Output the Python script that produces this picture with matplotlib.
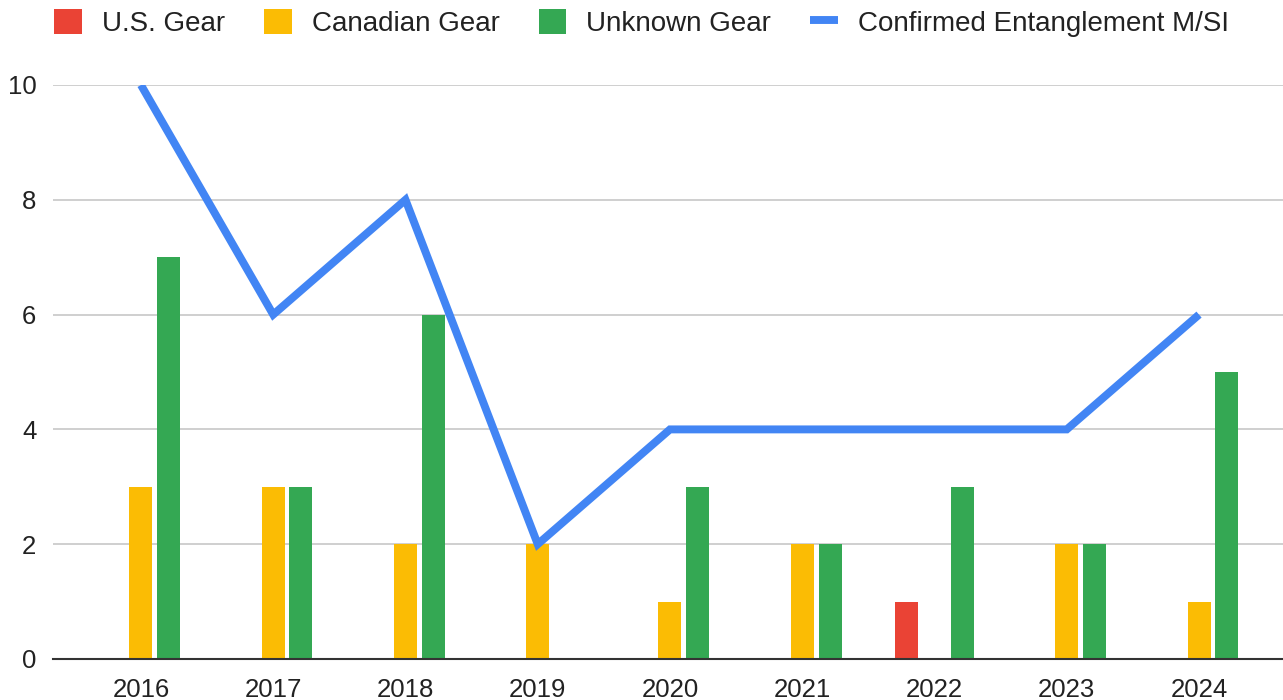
"""
Whale entanglement counts by gear origin, with confirmed M/SI line.
"""
import matplotlib
matplotlib.use('Agg')
import matplotlib.pyplot as plt
import numpy as np

years = ['2016', '2017', '2018', '2019', '2020', '2021', '2022', '2023', '2024']
us_gear = [0, 0, 0, 0, 0, 0, 1, 0, 0]
canadian_gear = [3, 3, 2, 2, 1, 2, 0, 2, 1]
unknown_gear = [7, 3, 6, 0, 3, 2, 3, 2, 5]
confirmed_msi = [10, 6, 8, 2, 4, 4, 4, 4, 6]

plt.rcParams['font.family'] = ['Liberation Sans', 'DejaVu Sans']
text_color = '#222222'

fig = plt.figure(figsize=(12.83, 7.0), dpi=100)
ax = fig.add_axes([53 / 1283, 41 / 700, 1 - 53 / 1283, 574 / 700])

x = np.arange(len(years))
width = 0.174
offset = 0.21

ax.bar(x - offset, us_gear, width, color='#EA4335', label='U.S. Gear', zorder=2)
ax.bar(x, canadian_gear, width, color='#FBBC04', label='Canadian Gear', zorder=2)
ax.bar(x + offset, unknown_gear, width, color='#34A853', label='Unknown Gear', zorder=2)
ax.plot(x, confirmed_msi, color='#4285F4', linewidth=5.7,
        label='Confirmed Entanglement M/SI', zorder=3,
        solid_joinstyle='miter', solid_capstyle='butt')

ax.set_xlim(-0.665, 8.635)
ax.set_ylim(0, 10)
ax.set_yticks([0, 2, 4, 6, 8, 10])
ax.set_xticks(x)
ax.set_xticklabels(years)
ax.tick_params(axis='both', length=0, labelsize=18.5, colors=text_color)
ax.tick_params(axis='y', pad=12)
ax.tick_params(axis='x', pad=14)

ax.grid(axis='y', color='#cccccc', linewidth=1.3, zorder=0)
ax.set_axisbelow(True)
for side in ['top', 'right', 'left']:
    ax.spines[side].set_visible(False)
ax.spines['bottom'].set_color('#333333')
ax.spines['bottom'].set_linewidth(1.5)
ax.spines['bottom'].set_zorder(4)

# Bars first, line last in the legend, as in the original
handles, labels = ax.get_legend_handles_labels()
order = [1, 2, 3, 0]
fig.legend([handles[i] for i in order], [labels[i] for i in order],
           loc='center', bbox_to_anchor=(0.5, 1 - 23 / 700), ncol=4,
           frameon=False, fontsize=20, handlelength=1.0, handleheight=1.0,
           handletextpad=0.72, columnspacing=1.4, labelcolor=text_color)

fig.savefig('out.png', dpi=100)
